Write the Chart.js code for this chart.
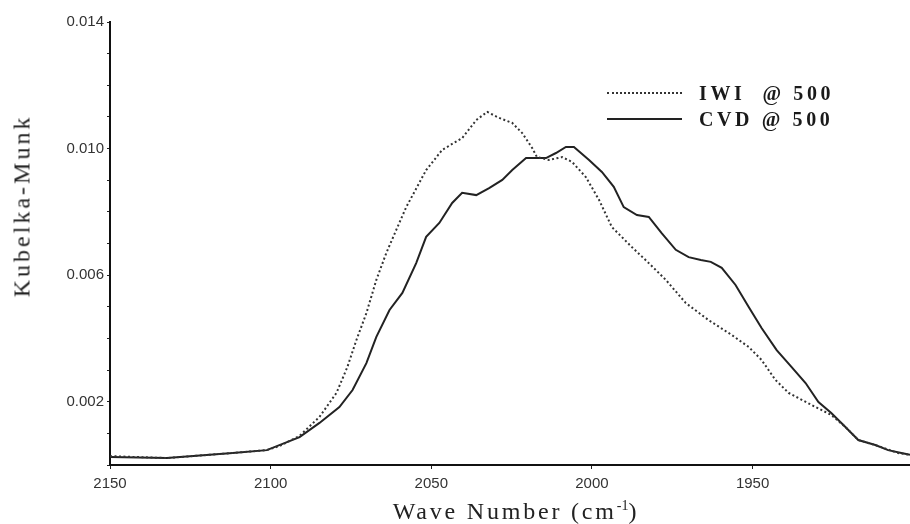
<!DOCTYPE html>
<html>
<head>
<meta charset="utf-8">
<script src="https://cdn.jsdelivr.net/npm/chart.js@4"></script>
<style>
  html, body { margin: 0; padding: 0; background: #fff; }
  #wrap { position: relative; width: 910px; height: 524px; }
  canvas { position: absolute; left: 0; top: 0; }
  .ytitle { position: absolute; left: 22px; top: 206px; transform: translate(-50%, -50%) rotate(-90deg);
    font: 24px 'Liberation Serif', serif; letter-spacing: 3px; color: #222; white-space: nowrap; }
  .xtitle { position: absolute; left: 516px; top: 498px; transform: translateX(-50%);
    font: 24px 'Liberation Serif', serif; letter-spacing: 2.8px; color: #222; white-space: nowrap; }
  .xtitle sup { font-size: 14px; letter-spacing: 0; }
  .legend { position: absolute; left: 607px; top: 80px; font: bold 20px 'Liberation Serif', serif; color: #1a1a1a; }
  .legend .row { display: flex; align-items: center; height: 26px; }
  .legend .ln { width: 75px; margin-right: 17px; }
  .legend .dot { border-top: 2px dotted #333; }
  .legend .sol { border-top: 2px solid #222; }
  .legend span { letter-spacing: 3.6px; white-space: pre; }
</style>
</head>
<body>
<div id="wrap">
  <canvas id="c" width="910" height="524"></canvas>
  <div class="ytitle">Kubelka-Munk</div>
  <div class="xtitle">Wave Number (cm<sup>-1</sup>)</div>
  <div class="legend">
    <div class="row"><div class="ln dot"></div><span>IWI  @ 500</span></div>
    <div class="row"><div class="ln sol"></div><span>CVD @ 500</span></div>
  </div>
</div>
<script>
// Wave numbers (cm-1) and Kubelka-Munk values
const iwiWave = [2150,2132.3,2111.8,2101.2,2097.2,2091.0,2084.8,2079.5,2076.1,2073.3,2070.2,2067.1,2064.0,2060.9,2057.8,2051.6,2046.6,2040.4,2036.0,2032.6,2028.9,2024.8,2021.7,2018.6,2017.1,2013.4,2009.3,2006.2,2001.9,1997.8,1993.8,1987.6,1982.3,1977.0,1970.8,1963.7,1956.5,1951.2,1947.2,1942.9,1938.8,1931.7,1925.5,1921.1,1917.1,1911.8,1904.7,1901.0];
const iwiKM = [0.28,0.22,0.38,0.47,0.60,0.92,1.52,2.28,3.10,3.95,4.80,5.85,6.70,7.43,8.15,9.32,9.96,10.33,10.90,11.16,10.97,10.81,10.49,10.02,9.73,9.64,9.73,9.58,9.10,8.38,7.52,6.89,6.38,5.85,5.12,4.58,4.11,3.73,3.32,2.69,2.28,1.90,1.58,1.20,0.79,0.63,0.38,0.32];

const cvdWave = [2150,2132.3,2111.8,2101.2,2091.0,2084.8,2078.6,2074.5,2070.2,2067.1,2063.0,2059.0,2054.7,2051.6,2047.5,2043.5,2040.4,2036.0,2032.0,2027.9,2024.8,2020.5,2014.3,2011.2,2008.1,2005.6,2000.9,1996.9,1993.2,1990.1,1986.0,1982.3,1978.3,1973.9,1969.9,1966.1,1963.0,1959.6,1955.3,1951.2,1947.2,1942.5,1937.9,1933.5,1929.5,1925.5,1921.1,1917.1,1911.8,1907.8,1903.7,1901.0];
const cvdKM = [0.25,0.22,0.38,0.47,0.88,1.33,1.83,2.37,3.22,4.05,4.90,5.44,6.38,7.21,7.65,8.28,8.60,8.53,8.75,9.01,9.32,9.70,9.70,9.86,10.05,10.05,9.64,9.26,8.79,8.15,7.90,7.84,7.33,6.80,6.57,6.48,6.42,6.23,5.69,4.99,4.33,3.63,3.10,2.59,1.99,1.64,1.20,0.79,0.63,0.47,0.38,0.32];

const xTicks = [2150,2100,2050,2000,1950];
const yTicks = [0,0.001,0.002,0.003,0.004,0.005,0.006,0.007,0.008,0.009,0.010,0.011,0.012,0.013,0.014];
const yLabels = ['0.002','0.006','0.010','0.014'];

const toPts = (w, v) => w.map((x, i) => ({ x, y: v[i] / 1000 }));
const tickFont = { family: "'Liberation Sans', Arial, sans-serif", size: 15 };

new Chart(document.getElementById('c'), {
  type: 'line',
  data: {
    datasets: [
      { label: 'IWI @ 500', data: toPts(iwiWave, iwiKM), borderColor: '#333', borderWidth: 2, borderDash: [2, 2.5], pointRadius: 0, tension: 0 },
      { label: 'CVD @ 500', data: toPts(cvdWave, cvdKM), borderColor: '#222', borderWidth: 2, pointRadius: 0, tension: 0 }
    ]
  },
  options: {
    responsive: false,
    animation: false,
    layout: { padding: { top: 22, right: 0, bottom: 0, left: 0 } },
    plugins: { legend: { display: false }, tooltip: { enabled: false } },
    scales: {
      x: {
        type: 'linear', reverse: true, min: 1901, max: 2150,
        afterBuildTicks: s => { s.ticks = xTicks.map(v => ({ value: v })); },
        afterFit: s => { s.height = 59; },
        border: { color: '#111', width: 2 },
        grid: { drawOnChartArea: false, tickLength: 4, color: '#222' },
        ticks: { font: tickFont, color: '#333', padding: 6, maxRotation: 0, autoSkip: false, callback: v => String(v) }
      },
      y: {
        min: 0, max: 0.014,
        afterBuildTicks: s => { s.ticks = yTicks.map(v => ({ value: v })); },
        afterFit: s => { s.width = 110; },
        border: { color: '#111', width: 2 },
        grid: { drawOnChartArea: false, tickLength: 3, color: '#222' },
        ticks: {
          font: tickFont, color: '#333', padding: 3, autoSkip: false,
          callback: v => { const t = v.toFixed(3); return yLabels.includes(t) ? t : ''; }
        }
      }
    }
  }
});
</script>
</body>
</html>
